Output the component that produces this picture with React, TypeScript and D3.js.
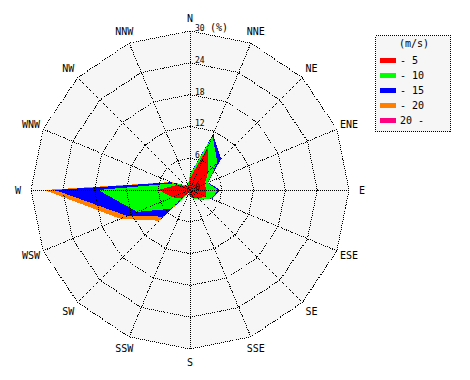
import React from 'react';
import * as d3 from 'd3';

const directions = ['N', 'NNE', 'NE', 'ENE', 'E', 'ESE', 'SE', 'SSE', 'S', 'SSW', 'SW', 'WSW', 'W', 'WNW', 'NW', 'NNW'];
const speedBins = ['- 5', '- 10', '- 15', '- 20', '20 -'];
const binColors = ['#ff0000', '#00ff00', '#0000ff', '#ff8000', '#ff0080'];

// frequency (%) per direction for each wind speed class
const upTo5 = [2.2, 8.7, 4.9, 3.0, 3.1, 3.3, 2.2, 1.6, 1.2, 0.6, 2.2, 3.6, 5.9, 2.6, 1.0, 0.8];
const upTo10 = [0.7, 2.4, 2.4, 0.6, 2.1, 1.1, 0.4, 0.2, 0.1, 0.1, 2.8, 7.2, 11.4, 0.7, 0.3, 0.2];
const upTo15 = [0.1, 0.3, 1.0, 0.1, 0.5, 0.1, 0.0, 0.0, 0.0, 0.0, 2.1, 2.0, 8.2, 0.5, 0.0, 0.0];
const upTo20 = [0.0, 0.0, 0.0, 0.0, 0.0, 0.0, 0.0, 0.0, 0.0, 0.0, 1.1, 1.4, 2.0, 0.1, 0.0, 0.0];
const over20 = [0, 0, 0, 0, 0, 0, 0, 0, 0, 0, 0, 0, 0, 0, 0, 0];

const radialTicks = [0, 6, 12, 18, 24, 30];
const gridRings = [6, 12, 18, 24, 30];

const W = 470;
const H = 380;
const cx = 190;
const cy = 190;
const mono = '"DejaVu Sans Mono", monospace';

export default function App() {
  const r = d3.scaleLinear().domain([0, 30]).range([0, 159]);
  const angle = d3.scaleLinear().domain([0, directions.length]).range([0, 2 * Math.PI]);

  const table = directions.map((d, i) => ({
    dir: d,
    b0: upTo5[i],
    b1: upTo10[i],
    b2: upTo15[i],
    b3: upTo20[i],
    b4: over20[i],
  }));
  const keys = ['b0', 'b1', 'b2', 'b3', 'b4'];
  const stacked = d3.stack<any>().keys(keys)(table);

  const line = d3
    .lineRadial<number>()
    .angle((_, i) => angle(i))
    .radius((v) => r(v))
    .curve(d3.curveLinearClosed);

  const ringPath = (v: number) => line(directions.map(() => v)) || '';

  const pt = (i: number, rad: number) => {
    const a = angle(i);
    return [cx + rad * Math.sin(a), cy - rad * Math.cos(a)];
  };

  const legX = 375;
  const legY = 35;

  return (
    <svg width={W} height={H} style={{ position: 'absolute', left: 0, top: 0, background: '#fff' }}>
      <g transform={`translate(${cx},${cy})`}>
        <path d={ringPath(30)} fill="#f6f6f6" stroke="none" />
        {stacked
          .slice()
          .reverse()
          .map((s) => (
            <path
              key={s.key}
              d={line(s.map((p) => p[1])) || ''}
              fill={binColors[keys.indexOf(s.key)]}
              stroke="none"
              shapeRendering="crispEdges"
            />
          ))}
      </g>
      <g fill="none" stroke="#000" strokeWidth={1} strokeDasharray="1 1" shapeRendering="crispEdges">
        {gridRings.map((v) => (
          <path key={v} d={ringPath(v)} transform={`translate(${cx},${cy})`} />
        ))}
        {directions.map((d, i) => {
          const [x, y] = pt(i, r(30));
          return <line key={d} x1={cx} y1={cy} x2={x} y2={y} />;
        })}
      </g>
      <g fontFamily={mono} fontSize={8} fill="#000">
        {radialTicks.map((v) => (
          <text key={v} x={cx + 5} y={cy - r(v)}>
            {v}
          </text>
        ))}
        <text x={cx + 20} y={cy - r(30)} fontSize={10}>
          (%)
        </text>
      </g>
      <g fontFamily={mono} fontSize={10} fill="#000">
        {directions.map((d, i) => {
          const [x, y] = pt(i, 172);
          return (
            <text key={d} x={x} y={y} textAnchor="middle" dominantBaseline="central">
              {d}
            </text>
          );
        })}
      </g>
      <g>
        <rect
          x={legX + 0.5}
          y={legY + 0.5}
          width={75}
          height={96}
          fill="#f6f6f6"
          stroke="#000"
          strokeDasharray="1 1"
          shapeRendering="crispEdges"
        />
        <text x={legX + 39} y={legY + 12} fontFamily={mono} fontSize={10} textAnchor="middle">
          (m/s)
        </text>
        {speedBins.map((b, i) => (
          <g key={b}>
            <rect x={legX + 5} y={legY + 23 + i * 15} width={16} height={5} fill={binColors[i]} />
            <text x={legX + 25} y={legY + 29 + i * 15} fontFamily={mono} fontSize={10}>
              {b}
            </text>
          </g>
        ))}
      </g>
    </svg>
  );
}
